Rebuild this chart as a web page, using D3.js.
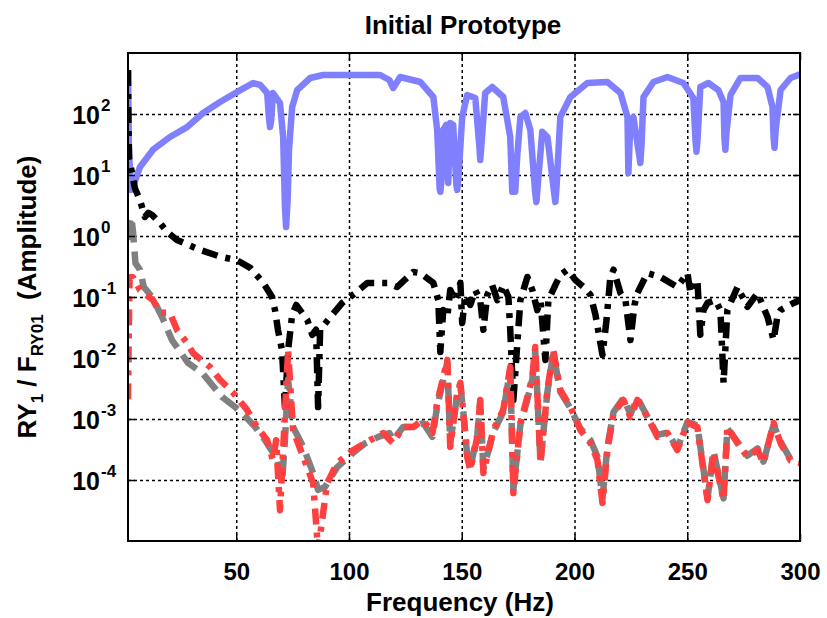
<!DOCTYPE html>
<html lang="en">
<head>
<meta charset="UTF-8">
<title>Initial Prototype</title>
<script src="https://d3js.org/d3.v7.min.js"></script>
<style>
    body { margin: 0; background: #fff; }
    text { font-family: "Liberation Sans", Arial, sans-serif; font-weight: bold; fill: #000; }
    .grid line { stroke: #000; stroke-width: 1.5; stroke-dasharray: 3,3; }
    .grid path { display: none; }
    .axis path { display: none; }
    .axis line { stroke: #000; stroke-width: 1.5; }
</style>
</head>
<body>
<svg width="827" height="618"></svg>
<script>
// tick values
const xTicks = [50, 100, 150, 200, 250, 300];
const yTicks = [1e-4, 1e-3, 1e-2, 1e-1, 1e0, 1e1, 1e2];

// series: [frequency Hz, amplitude]
const blue = [[2.0,526],[2.4,26],[3.3,5.7],[4.2,6.4],[7.3,13.5],[13.1,26],[20.6,42],[28.2,61],[35.3,104],[42.8,157],[50.4,230],[57.5,322],[60.6,299],[63.7,221],[64.6,80],[65.0,61],[65.5,80],[66.3,221],[69.4,151],[70.8,42],[71.6,3],[72.1,1.4],[72.8,4],[73.4,26],[74.8,130],[77.0,247],[82.8,389],[88.5,436],[113.8,436],[117.9,361],[119.6,267],[122.7,404],[131.6,335],[137.4,190],[139.1,55],[140.2,6],[140.5,5.3],[141.0,8],[141.8,55],[143.1,66],[144.0,7.4],[144.9,71],[146.2,66],[147.6,7],[148.0,5.7],[148.6,10],[150.2,89],[152.4,205],[156.0,183],[157.8,30],[158.2,17.6],[158.7,30],[160.4,221],[163.5,277],[168.4,190],[171.5,42],[172.4,5.3],[173.7,5.3],[174.6,20],[176.0,89],[178.2,104],[180.4,55],[182.6,5],[183.1,3.6],[183.6,6],[185.7,51],[188.0,42],[191.0,5],[191.5,3.6],[192.0,6],[193.7,89],[198.2,190],[205.7,322],[214.6,335],[220.4,221],[223.5,89],[223.9,10.8],[224.5,40],[226.1,89],[228.8,20],[229.2,15.7],[229.7,30],[230.6,190],[235.0,335],[241.2,404],[248.3,322],[252.7,183],[253.7,35],[254.1,24],[254.6,40],[255.8,277],[259.4,322],[263.8,247],[266.1,157],[266.5,40],[266.9,26],[267.4,50],[269.2,205],[273.6,389],[281.2,389],[285.6,277],[287.8,130],[288.3,40],[288.7,28],[289.3,60],[291.4,247],[295.8,389],[300,450]];

const black = [[2.0,526],[2.2,60],[2.5,18],[3.8,10.8],[5.1,6],[7.3,3.9],[9.5,2.05],[11.0,2.4],[12.7,2.21],[16.2,1.63],[19.4,1.16],[23.7,0.86],[34.0,0.59],[42.8,0.46],[50.4,0.40],[56.2,0.30],[62.0,0.17],[65.9,0.1],[67.2,0.061],[68.5,0.029],[70.3,0.0135],[71.6,0.00157],[73.0,0.0135],[74.8,0.051],[76.6,0.074],[78.3,0.061],[81.5,0.042],[83.7,0.024],[85.4,0.029],[86.3,0.00157],[87.2,0.029],[90.7,0.042],[97.0,0.080],[102.8,0.116],[108.1,0.17],[117.0,0.17],[121.4,0.146],[128.5,0.257],[131.6,0.247],[137.4,0.17],[139.6,0.089],[140.5,0.0125],[141.8,0.061],[143.6,0.047],[144.9,0.13],[147.1,0.089],[149.4,0.17],[150.2,0.0375],[151.6,0.108],[153.8,0.074],[156.0,0.13],[158.2,0.089],[159.6,0.029],[161.3,0.108],[163.5,0.157],[165.8,0.089],[168.4,0.157],[170.7,0.1],[171.5,0.029],[172.9,0.00205],[174.6,0.0163],[176.0,0.089],[179.1,0.213],[181.3,0.13],[183.5,0.061],[184.9,0.089],[187.1,0.0093],[188.4,0.089],[191.5,0.157],[193.7,0.23],[196.9,0.28],[200.4,0.19],[204.0,0.146],[207.1,0.108],[209.3,0.051],[212.4,0.0112],[214.2,0.042],[215.9,0.213],[217.3,0.28],[220.4,0.116],[222.6,0.089],[224.8,0.0197],[226.6,0.074],[227.9,0.116],[232.3,0.247],[238.1,0.213],[245.6,0.146],[250.1,0.247],[251.4,0.116],[254.5,0.19],[255.8,0.024],[257.2,0.061],[259.0,0.080],[262.5,0.089],[264.7,0.061],[266.1,0.0039],[267.8,0.061],[272.3,0.146],[276.7,0.069],[281.2,0.116],[285.6,0.047],[288.3,0.0197],[290.1,0.051],[291.4,0.061],[297.2,0.080],[300,0.089]];

const gray = [[2.0,0.86],[2.6,1.5],[3.5,2.05],[4.2,1.2],[5.3,0.36],[7.3,0.28],[9.0,0.146],[12.7,0.1],[17.1,0.047],[21.5,0.0197],[28.6,0.0083],[34.9,0.0057],[43.7,0.0023],[49.5,0.00157],[52.6,0.00125],[58.4,0.00074],[62.8,0.00045],[66.3,0.00028],[68.1,0.00024],[70.3,0.000089],[71.6,0.00045],[73.0,0.0044],[75.2,0.00074],[79.7,0.00035],[84.1,0.00013],[86.3,0.000069],[89.4,0.000077],[94.8,0.000163],[101.9,0.00028],[107.2,0.0004],[113.0,0.00051],[117.9,0.00059],[119.6,0.00045],[124.0,0.00074],[128.5,0.00074],[132.9,0.00086],[137.0,0.00051],[139.1,0.0016],[143.6,0.0085],[144.9,0.0004],[148.0,0.0025],[149.4,0.0035],[150.7,0.0013],[152.4,0.00026],[153.8,0.00016],[156.9,0.00055],[158.2,0.0019],[159.6,0.00015],[164.0,0.0006],[168.4,0.0013],[171.5,0.0065],[172.9,0.00007],[176.0,0.0008],[179.1,0.0021],[181.3,0.0045],[182.6,0.013],[184.9,0.0002],[188.0,0.0028],[190.6,0.012],[193.7,0.0028],[198.2,0.0015],[202.6,0.0007],[207.1,0.00045],[210.2,0.00024],[212.4,0.00005],[214.6,0.00035],[217.3,0.0013],[221.7,0.0022],[224.8,0.0012],[227.9,0.0022],[232.3,0.0011],[236.8,0.00055],[241.2,0.0006],[245.6,0.00033],[250.1,0.0009],[254.5,0.00078],[259.0,0.00005],[261.6,0.0003],[266.1,0.00005],[267.8,0.0007],[272.3,0.00042],[276.7,0.00025],[281.2,0.00033],[283.8,0.0002],[288.3,0.0008],[291.4,0.00042],[295.8,0.00022],[300,0.0002]];

const red = [[2.0,0.0021],[2.3,0.02],[2.7,0.21],[4.2,0.21],[7.3,0.13],[13.1,0.089],[16.2,0.055],[20.6,0.055],[23.7,0.029],[28.2,0.0176],[30.8,0.0121],[38.4,0.0071],[42.8,0.0044],[48.6,0.0027],[54.8,0.00141],[59.2,0.00074],[63.7,0.00045],[66.3,0.00021],[67.7,0.00045],[69.4,0.000032],[70.8,0.00031],[73.0,0.0135],[75.2,0.00066],[79.7,0.00024],[84.1,0.000089],[86.3,0.000007],[90.3,0.000089],[94.8,0.00019],[101.9,0.00031],[109.4,0.00045],[115.2,0.00059],[119.6,0.0004],[124.0,0.00074],[128.5,0.00074],[132.9,0.00096],[137.0,0.00059],[139.1,0.00183],[143.6,0.0093],[144.9,0.00035],[148.0,0.0027],[149.4,0.0039],[150.7,0.00125],[152.4,0.00024],[153.8,0.000146],[156.9,0.00051],[158.2,0.00205],[159.6,0.00013],[164.0,0.00066],[168.4,0.00141],[171.5,0.0071],[172.9,0.000061],[176.0,0.00086],[179.1,0.0023],[181.3,0.0049],[182.6,0.0151],[184.9,0.00019],[188.0,0.003],[190.6,0.0135],[193.7,0.003],[198.2,0.00157],[202.6,0.00066],[207.1,0.0004],[210.2,0.00021],[212.4,0.000042],[214.6,0.00031],[217.3,0.00125],[221.7,0.00205],[224.8,0.00108],[227.9,0.00205],[232.3,0.00108],[236.8,0.00051],[241.2,0.00059],[245.6,0.00031],[250.1,0.00086],[254.5,0.00074],[259.0,0.000047],[261.6,0.00028],[266.1,0.000047],[267.8,0.00074],[272.3,0.0004],[276.7,0.00024],[281.2,0.00031],[283.8,0.00019],[288.3,0.00086],[291.4,0.0004],[295.8,0.00021],[300,0.00019]];

const svg = d3.select("svg");
const plotLeft = 128, plotRight = 800, plotTop = 53, plotBottom = 541;
const width = plotRight - plotLeft, height = plotBottom - plotTop;

const x = d3.scaleLinear().domain([2, 300]).range([plotLeft, plotRight]);
const y = d3.scaleLog().domain([1e-5, 1e3]).range([plotBottom, plotTop]);

// gridlines
svg.append("g")
    .attr("class", "grid")
    .attr("transform", `translate(0,${plotBottom})`)
    .call(d3.axisBottom(x).tickValues(xTicks.slice(0, -1)).tickSize(-height).tickFormat(""));

svg.append("g")
    .attr("class", "grid")
    .attr("transform", `translate(${plotLeft},0)`)
    .call(d3.axisLeft(y).tickValues(yTicks).tickSize(-width).tickFormat(""));

// lines
svg.append("clipPath").attr("id", "plot")
    .append("rect").attr("x", plotLeft).attr("y", plotTop).attr("width", width).attr("height", height);

const line = d3.line().x(d => x(d[0])).y(d => y(d[1]));
const series = [
    { data: blue, color: "#8080ff", dash: null },
    { data: black, color: "#000000", dash: "16,8,5,8" },
    { data: gray, color: "#808080", dash: "20,9" },
    { data: red, color: "#ff4040", dash: "16,8,5,8" }
];
svg.append("g").attr("clip-path", "url(#plot)")
    .selectAll("path").data(series).join("path")
    .attr("d", d => line(d.data))
    .attr("fill", "none")
    .attr("stroke", d => d.color)
    .attr("stroke-width", 6.5)
    .attr("stroke-linejoin", "round")
    .attr("stroke-dasharray", d => d.dash);

// inner ticks on all four sides
svg.append("g").attr("class", "axis")
    .attr("transform", `translate(0,${plotBottom})`)
    .call(d3.axisBottom(x).tickValues(xTicks).tickSize(-7).tickPadding(22))
    .call(g => g.selectAll("text").attr("font-size", 24).attr("fill", "#000"));
svg.append("g").attr("class", "axis")
    .attr("transform", `translate(0,${plotTop})`)
    .call(d3.axisTop(x).tickValues(xTicks).tickSize(-7).tickFormat(""));

const yAxis = svg.append("g").attr("class", "axis")
    .attr("transform", `translate(${plotLeft},0)`)
    .call(d3.axisLeft(y).tickValues(yTicks).tickSize(-7).tickFormat(""));
svg.append("g").attr("class", "axis")
    .attr("transform", `translate(${plotRight},0)`)
    .call(d3.axisRight(y).tickValues(yTicks).tickSize(-7).tickFormat(""));

yAxis.selectAll(".tick").each(function(d) {
    const t = d3.select(this);
    t.append("text").attr("x", 100 - plotLeft).attr("y", 9)
        .attr("text-anchor", "end").attr("font-size", 25).text("10");
    t.append("text").attr("x", 101 - plotLeft).attr("y", -4)
        .attr("text-anchor", "start")
        .attr("font-size", 17).text(Math.round(Math.log10(d)));
});

// box
svg.append("rect")
    .attr("x", plotLeft).attr("y", plotTop).attr("width", width).attr("height", height)
    .attr("fill", "none").attr("stroke", "#000").attr("stroke-width", 2);

// titles
svg.append("text").attr("x", 463).attr("y", 34).attr("text-anchor", "middle")
    .attr("font-size", 26).text("Initial Prototype");

svg.append("text").attr("x", 460).attr("y", 611).attr("text-anchor", "middle")
    .attr("font-size", 26).text("Frequency (Hz)");

const yl = svg.append("text")
    .attr("transform", "translate(36,297) rotate(-90)")
    .attr("text-anchor", "middle").attr("font-size", 26)
    .attr("xml:space", "preserve");
yl.append("tspan").text("RY");
yl.append("tspan").attr("font-size", 17).attr("dy", 7).text("1");
yl.append("tspan").attr("dy", -7).text(" / F");
yl.append("tspan").attr("font-size", 17).attr("dy", 7).text("RY01");
yl.append("tspan").attr("dy", -7).text("  (Amplitude)");
</script>
</body>
</html>
